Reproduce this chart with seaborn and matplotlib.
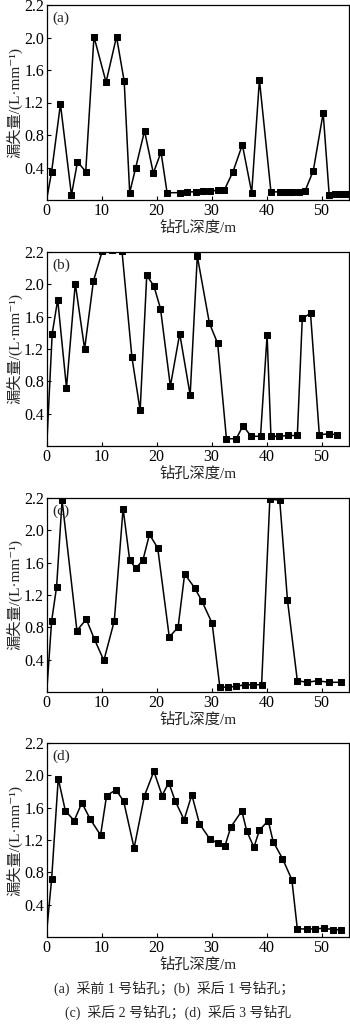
import numpy as np
import pandas as pd
import seaborn as sns
import matplotlib.pyplot as plt

# Data: depth (m) and loss (L/mm) for each borehole; first point is the line origin (no marker)
depth_a = [0, 0.9, 2.5, 4.5, 5.6, 7.1, 8.6, 10.8, 12.7, 14.1, 15.1, 16.2, 17.8, 19.4, 20.8, 21.9,
           24.2, 25.6, 27.2, 28.5, 29.7, 31.2, 32.3, 33.9, 35.6, 37.3, 38.7, 40.8, 42.4, 43.5,
           44.7, 45.9, 47.0, 48.5, 50.3, 51.4, 52.4, 53.5, 54.4]
loss_a = [0.01, 0.35, 1.18, 0.06, 0.47, 0.35, 2.01, 1.45, 2.01, 1.46, 0.09, 0.40, 0.85, 0.33, 0.59, 0.09,
          0.09, 0.10, 0.10, 0.11, 0.11, 0.12, 0.12, 0.35, 0.68, 0.09, 1.48, 0.10, 0.10, 0.10,
          0.10, 0.10, 0.11, 0.36, 1.07, 0.06, 0.07, 0.07, 0.07]

depth_b = [0, 1.0, 2.0, 3.6, 5.2, 6.9, 8.5, 10.1, 11.9, 13.7, 15.5, 17.0, 18.2, 19.5, 20.7, 22.5,
           24.2, 26.1, 27.4, 29.6, 31.1, 32.7, 34.5, 35.7, 37.2, 38.9, 40.1, 40.8, 42.3, 43.9,
           45.6, 46.5, 48.0, 49.6, 51.3, 52.8]
loss_b = [0.0, 1.39, 1.81, 0.72, 2.01, 1.20, 2.04, 2.41, 2.43, 2.41, 1.10, 0.44, 2.11, 1.98, 1.70, 0.74,
          1.39, 0.63, 2.35, 1.52, 1.27, 0.09, 0.09, 0.25, 0.12, 0.12, 1.37, 0.12, 0.12, 0.13,
          0.13, 1.58, 1.64, 0.14, 0.15, 0.14]

depth_c = [0, 0.9, 1.8, 2.8, 5.5, 7.2, 8.7, 10.4, 12.3, 13.9, 15.1, 16.2, 17.5, 18.7, 20.2, 22.3,
           23.9, 25.1, 26.9, 28.2, 30.1, 31.5, 33.0, 34.5, 36.0, 37.6, 39.1, 40.6, 42.4, 43.8,
           45.6, 47.4, 49.3, 51.3, 53.5]
loss_c = [0.0, 0.88, 1.30, 2.37, 0.76, 0.90, 0.65, 0.39, 0.88, 2.27, 1.63, 1.53, 1.63, 1.95, 1.78, 0.68,
          0.80, 1.46, 1.29, 1.13, 0.85, 0.06, 0.06, 0.07, 0.09, 0.09, 0.09, 2.39, 2.37, 1.14,
          0.14, 0.12, 0.14, 0.12, 0.12]

depth_d = [0, 0.9, 2.1, 3.4, 5.0, 6.4, 7.9, 9.8, 10.9, 12.6, 14.0, 15.9, 17.8, 19.5, 21.0, 22.2,
           23.4, 25.0, 26.4, 27.8, 29.7, 31.2, 32.4, 33.5, 35.5, 36.4, 37.7, 38.7, 40.3, 41.2,
           42.9, 44.6, 45.6, 47.3, 48.8, 50.5, 52.1, 53.6]
loss_d = [0.07, 0.72, 1.96, 1.56, 1.44, 1.66, 1.46, 1.26, 1.75, 1.82, 1.68, 1.10, 1.75, 2.05, 1.75, 1.91,
          1.68, 1.45, 1.76, 1.40, 1.21, 1.16, 1.12, 1.36, 1.56, 1.31, 1.11, 1.32, 1.44, 1.18,
          0.97, 0.71, 0.10, 0.10, 0.10, 0.11, 0.09, 0.09]

panel_tags = ['(a)', '(b)', '(c)', '(d)']
x_ticks = [0, 10, 20, 30, 40, 50]
y_ticks = [0.4, 0.8, 1.2, 1.6, 2.0, 2.4]
y_tick_labels = ['0.4', '0.8', '1.2', '1.6', '2.0', '2.2']
x_label = '钻孔深度/m'
y_label = '漏失量/(L·mm⁻¹)'
caption = ['(a)  采前 1 号钻孔；(b)  采后 1 号钻孔；', '(c)  采后 2 号钻孔；(d)  采后 3 号钻孔']

sns.set_style('ticks')
plt.rcParams['font.family'] = ['Liberation Serif', 'Noto Sans CJK SC', 'DejaVu Serif']

fig = plt.figure(figsize=(3.5, 10.28), dpi=100)

# axes boxes in pixels: (top, bottom)
boxes = [(5, 200), (252, 446), (498, 692), (743, 937)]
left_px, right_px = 46.7, 349
W, H = 350, 1028

series = [(depth_a, loss_a), (depth_b, loss_b), (depth_c, loss_c), (depth_d, loss_d)]

for (top, bot), (xs, ys), tag in zip(boxes, series, panel_tags):
    ax = fig.add_axes([left_px / W, 1 - bot / H, (right_px - left_px) / W, (bot - top) / H])
    df = pd.DataFrame({'depth': xs, 'loss': ys})
    sns.lineplot(data=df, x='depth', y='loss', ax=ax, color='black', linewidth=1.1,
                 marker='s', markersize=5, markeredgecolor='black',
                 markevery=list(range(1, len(xs))), estimator=None)
    ax.set_xlim(0, 55)
    ax.set_ylim(0, 2.4)
    ax.set_xticks(x_ticks)
    ax.set_yticks(y_ticks)
    ax.set_yticklabels(y_tick_labels)
    ax.tick_params(direction='in', length=3, width=0.8, labelsize=11.5, pad=2, colors='black')
    for s in ax.spines.values():
        s.set_linewidth(0.9)
        s.set_color('black')
    ax.set_xlabel(x_label, fontsize=11, labelpad=1)
    ax.set_ylabel(y_label, fontsize=11, labelpad=1)
    ax.text(0.02, 0.965, tag, transform=ax.transAxes, ha='left', va='top', fontsize=11)

fig.text(174 / W, 1 - 988 / H, caption[0], ha='center', va='center', fontsize=10)
fig.text(178 / W, 1 - 1012 / H, caption[1], ha='center', va='center', fontsize=10)

fig.savefig('out.png', dpi=100)
